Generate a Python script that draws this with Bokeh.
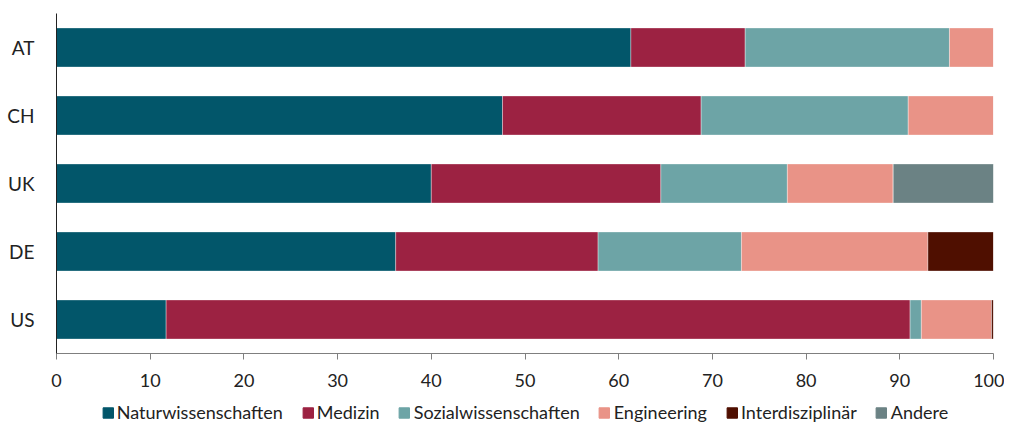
from bokeh.plotting import figure
from bokeh.layouts import column
from bokeh.models import Legend, LegendItem, Range1d, FactorRange, FixedTicker, ColumnDataSource
from bokeh.embed import file_html
from bokeh.resources import INLINE

countries = ["AT", "CH", "UK", "DE", "US"]
series = ["Naturwissenschaften", "Medizin", "Sozialwissenschaften", "Engineering", "Interdisziplinär", "Andere"]
natur = [61.3, 47.6, 40.0, 36.2, 11.7]
medizin = [12.2, 21.2, 24.5, 21.6, 79.4]
sozial = [21.8, 22.1, 13.5, 15.3, 1.2]
engineering = [4.7, 9.1, 11.3, 19.9, 7.5]
interdisz = [0.0, 0.0, 0.0, 7.0, 0.2]
andere = [0.0, 0.0, 10.7, 0.0, 0.0]
colors = ["#02566A", "#9C2242", "#6DA4A6", "#E99387", "#4F0F00", "#6B8284"]
x_ticks = [0, 10, 20, 30, 40, 50, 60, 70, 80, 90, 100]

FONT = "Lato"

data = dict(country=countries)
for name, vals in zip(series, [natur, medizin, sozial, engineering, interdisz, andere]):
    data[name] = vals
src = ColumnDataSource(data)

p = figure(y_range=FactorRange(*list(reversed(countries)), range_padding=0),
           x_range=Range1d(0, 100),
           width=1004, height=400,
           output_backend="svg", toolbar_location=None,
           min_border_left=56, min_border_right=11, min_border_top=13, min_border_bottom=47)

renderers = p.hbar_stack(series, y="country", height=0.575, color=colors, source=src,
                         line_color="white", line_alpha=0.35, line_width=1)

p.outline_line_color = None
p.xgrid.grid_line_color = None
p.ygrid.grid_line_color = None

p.xaxis.ticker = FixedTicker(ticks=x_ticks)
p.xaxis.axis_line_color = "#7f7f7f"
p.xaxis.major_tick_line_color = "#7f7f7f"
p.xaxis.major_tick_out = 6
p.xaxis.major_tick_in = 0
p.xaxis.minor_tick_line_color = None
p.xaxis.major_label_standoff = 14
p.xaxis.major_label_text_font = FONT
p.xaxis.major_label_text_font_size = "18px"
p.xaxis.major_label_text_color = "#222222"

p.yaxis.axis_line_color = "#222222"
p.yaxis.major_tick_line_color = None
p.yaxis.minor_tick_line_color = None
p.yaxis.major_label_standoff = 16
p.yaxis.major_label_text_font = FONT
p.yaxis.major_label_text_font_size = "19px"
p.yaxis.major_label_text_color = "#222222"

# legend in a small companion figure below the chart
lg = figure(width=1004, height=24, x_range=Range1d(0, 1), y_range=Range1d(0, 1),
            output_backend="svg", toolbar_location=None,
            x_axis_type=None, y_axis_type=None,
            min_border_left=36, min_border_right=0, min_border_top=0, min_border_bottom=0)
lg.outline_line_color = None
lg.xgrid.grid_line_color = None
lg.ygrid.grid_line_color = None

# one zero-size placeholder row per series, so the legend can draw its swatch
dummy = ColumnDataSource(dict(y=[0], left=[0], right=[0]))
items = []
for s, c in zip(series, colors):
    r = lg.hbar(y="y", left="left", right="right", height=0, color=c, source=dummy)
    items.append(LegendItem(label=s, renderers=[r]))
legend = Legend(items=items, orientation="horizontal", location="center",
                label_text_font=FONT, label_text_font_size="18px", label_text_color="#222222",
                glyph_width=13, glyph_height=13, label_standoff=3, spacing=18,
                border_line_color=None, background_fill_alpha=0,
                padding=0, margin=0, label_height=14)
lg.add_layout(legend, "center")

layout = column(p, lg, spacing=0)
open("out.html", "w").write(file_html(layout, INLINE))
